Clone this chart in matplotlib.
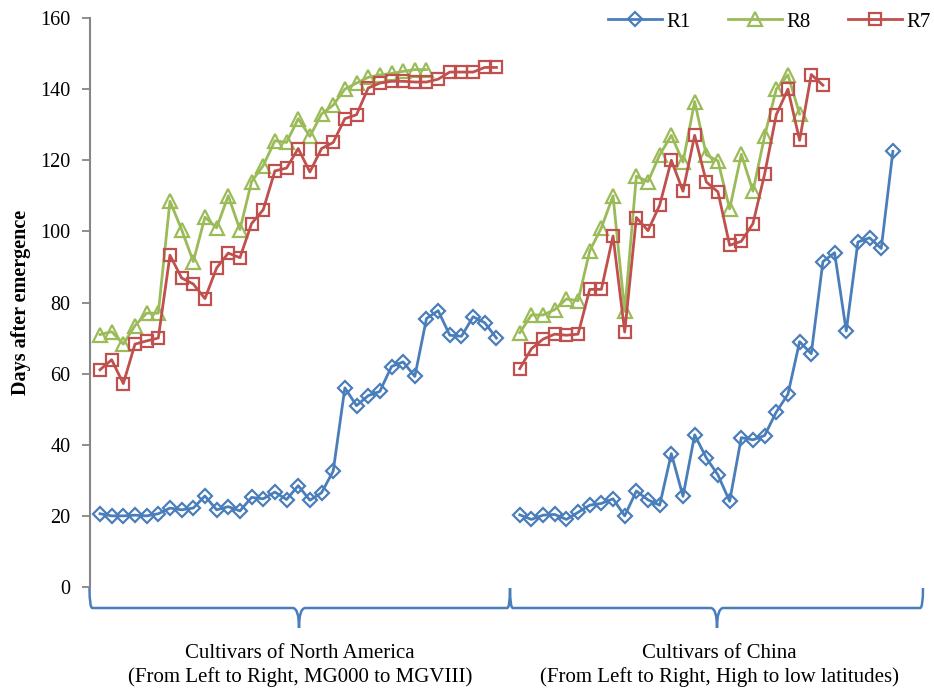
"""Days after emergence to R1, R8 and R7 for North American and Chinese cultivars."""

import numpy as np
import matplotlib
matplotlib.use("Agg")
import matplotlib.pyplot as plt
from matplotlib.path import Path
from matplotlib.patches import PathPatch

plt.rcParams["font.family"] = ["Liberation Serif", "DejaVu Serif"]

BLUE = "#4A7EBB"
GREEN = "#9BBB59"
RED = "#C0504D"
AXIS_GRAY = "#868686"

# North American cultivars (MG000 -> MGVIII)
na_r1 = [20.6, 20.0, 20.0, 20.2, 20.0, 20.6, 22.2, 21.7, 22.2, 25.6, 21.7, 22.6,
         21.4, 25.2, 24.8, 26.7, 24.6, 28.5, 24.4, 26.5, 32.6, 56.0, 51.0, 53.8,
         55.0, 62.0, 63.3, 59.2, 75.5, 77.7, 70.8, 70.5, 76.0, 74.3, 70.0]
na_r8 = [71.0, 71.8, 68.3, 73.5, 77.0, 77.0, 108.5, 100.5, 91.5, 104.0, 101.0,
         110.0, 100.5, 114.0, 118.5, 125.5, 125.0, 131.7, 126.7, 133.0, 135.5,
         140.0, 141.7, 143.3, 144.0, 144.4, 145.0, 145.5, 145.5]
na_r7 = [61.1, 63.9, 57.2, 68.3, 69.2, 70.0, 93.3, 86.9, 85.2, 81.1, 89.7, 93.9,
         92.6, 102.2, 106.1, 117.0, 117.8, 123.3, 116.7, 123.3, 125.0, 131.7,
         132.8, 140.3, 141.7, 142.2, 142.2, 142.0, 142.0, 142.8, 144.8, 144.8,
         144.8, 146.1, 146.1]

# Chinese cultivars (high -> low latitudes)
cn_r1 = [20.3, 19.0, 20.2, 20.4, 19.0, 21.0, 23.0, 23.5, 24.8, 20.0, 27.0, 24.5,
         23.0, 37.5, 25.5, 42.8, 36.3, 31.5, 24.1, 42.0, 41.4, 42.6, 49.2, 54.2,
         69.0, 65.6, 91.5, 94.0, 72.0, 97.0, 98.2, 95.2, 122.5]
cn_r8 = [71.5, 76.5, 76.5, 78.0, 81.0, 80.5, 94.5, 101.0, 110.0, 77.5, 115.5,
         114.0, 121.5, 127.0, 119.5, 136.5, 121.5, 119.8, 106.3, 121.7, 111.3,
         126.8, 140.0, 144.0, 133.0]
cn_r7 = [61.4, 67.0, 69.7, 71.1, 70.8, 71.1, 83.7, 83.7, 98.7, 71.7, 103.9,
         100.2, 107.4, 120.0, 111.3, 127.0, 113.9, 111.1, 96.1, 97.2, 102.2,
         116.1, 132.8, 140.0, 125.6, 144.1, 141.1]

series_names = ["R1", "R8", "R7"]
group_labels = ["Cultivars of North America\n(From Left to Right, MG000 to MGVIII)",
                "Cultivars of China\n(From Left to Right, High to low latitudes)"]
yticks = [0, 20, 40, 60, 80, 100, 120, 140, 160]

N_NA = len(na_r1)
CN_START = N_NA + 1  # one empty category between the groups


def series_xy(na, cn):
    x = list(range(len(na))) + [np.nan] + list(range(CN_START, CN_START + len(cn)))
    y = list(na) + [np.nan] + list(cn)
    return np.array(x, float), np.array(y, float)


def bracket(ax, x0, x1, xc, top, mid, tip, r=0.25, rt=0.55):
    verts = [(x0, top), (x0, mid), (x0 + r, mid),
             (xc - rt, mid), (xc, mid), (xc, tip),
             (xc, mid), (xc + rt, mid),
             (x1 - r, mid), (x1, mid), (x1, top)]
    codes = [Path.MOVETO, Path.CURVE3, Path.CURVE3,
             Path.LINETO, Path.CURVE3, Path.CURVE3,
             Path.CURVE3, Path.CURVE3,
             Path.LINETO, Path.CURVE3, Path.CURVE3]
    ax.add_patch(PathPatch(Path(verts, codes), facecolor="none", edgecolor=BLUE,
                           linewidth=1.8, clip_on=False, transform=ax.transData))


fig = plt.figure(figsize=(9.34, 6.89), dpi=100)
ax = fig.add_axes([90 / 934, 1 - 587 / 689, (923 - 90) / 934, (587 - 18) / 689])

markers = {"R1": ("D", 7.5), "R8": ("^", 10), "R7": ("s", 9)}
colors = {"R1": BLUE, "R8": GREEN, "R7": RED}
data = {"R1": (na_r1, cn_r1), "R8": (na_r8, cn_r8), "R7": (na_r7, cn_r7)}
for name in series_names:
    x, y = series_xy(*data[name])
    mk, ms = markers[name]
    ax.plot(x, y, color=colors[name], marker=mk, markersize=ms, mfc="none",
            mew=1.6, lw=2.0, label=name)

px = 11.66  # pixels per category
ax.set_xlim(-10 / px, (923 - 100) / px)
ax.set_ylim(0, 160)
ax.set_yticks(yticks)
ax.set_xticks([])
for side in ("top", "right", "bottom"):
    ax.spines[side].set_visible(False)
ax.spines["left"].set_color(AXIS_GRAY)
ax.spines["left"].set_linewidth(1.5)
ax.tick_params(axis="y", direction="out", length=6, width=1.3, color=AXIS_GRAY,
               labelsize=14.5, pad=8)
ax.set_ylabel("Days after emergence", fontsize=14.5, fontweight="bold", labelpad=7)

# curly brackets grouping the cultivars
upp = 160 / (587 - 18)  # data units per pixel on y
top, mid, tip = -1 * upp, -21 * upp, -41 * upp
split = (510 - 100) / px
bracket(ax, -10.5 / px, split, (299 - 100) / px, top, mid, tip)
bracket(ax, split, (923 - 100) / px, (717 - 100) / px, top, mid, tip)

for cx, label in zip([(300 - 100) / px, (719 - 100) / px], group_labels):
    l1, l2 = label.split("\n")
    ax.text(cx, -71 * upp, l1, ha="center", va="baseline", fontsize=15, clip_on=False)
    ax.text(cx, -95 * upp, l2, ha="center", va="baseline", fontsize=15, clip_on=False)

ax.legend(loc="upper right", bbox_to_anchor=(931 / 934, 1 - 12 / 689),
          bbox_transform=fig.transFigure, ncol=3, frameon=False, fontsize=15,
          handlelength=2.6, handletextpad=0.2, columnspacing=1.8, borderpad=0,
          borderaxespad=0)

fig.savefig("out.png", dpi=100)
